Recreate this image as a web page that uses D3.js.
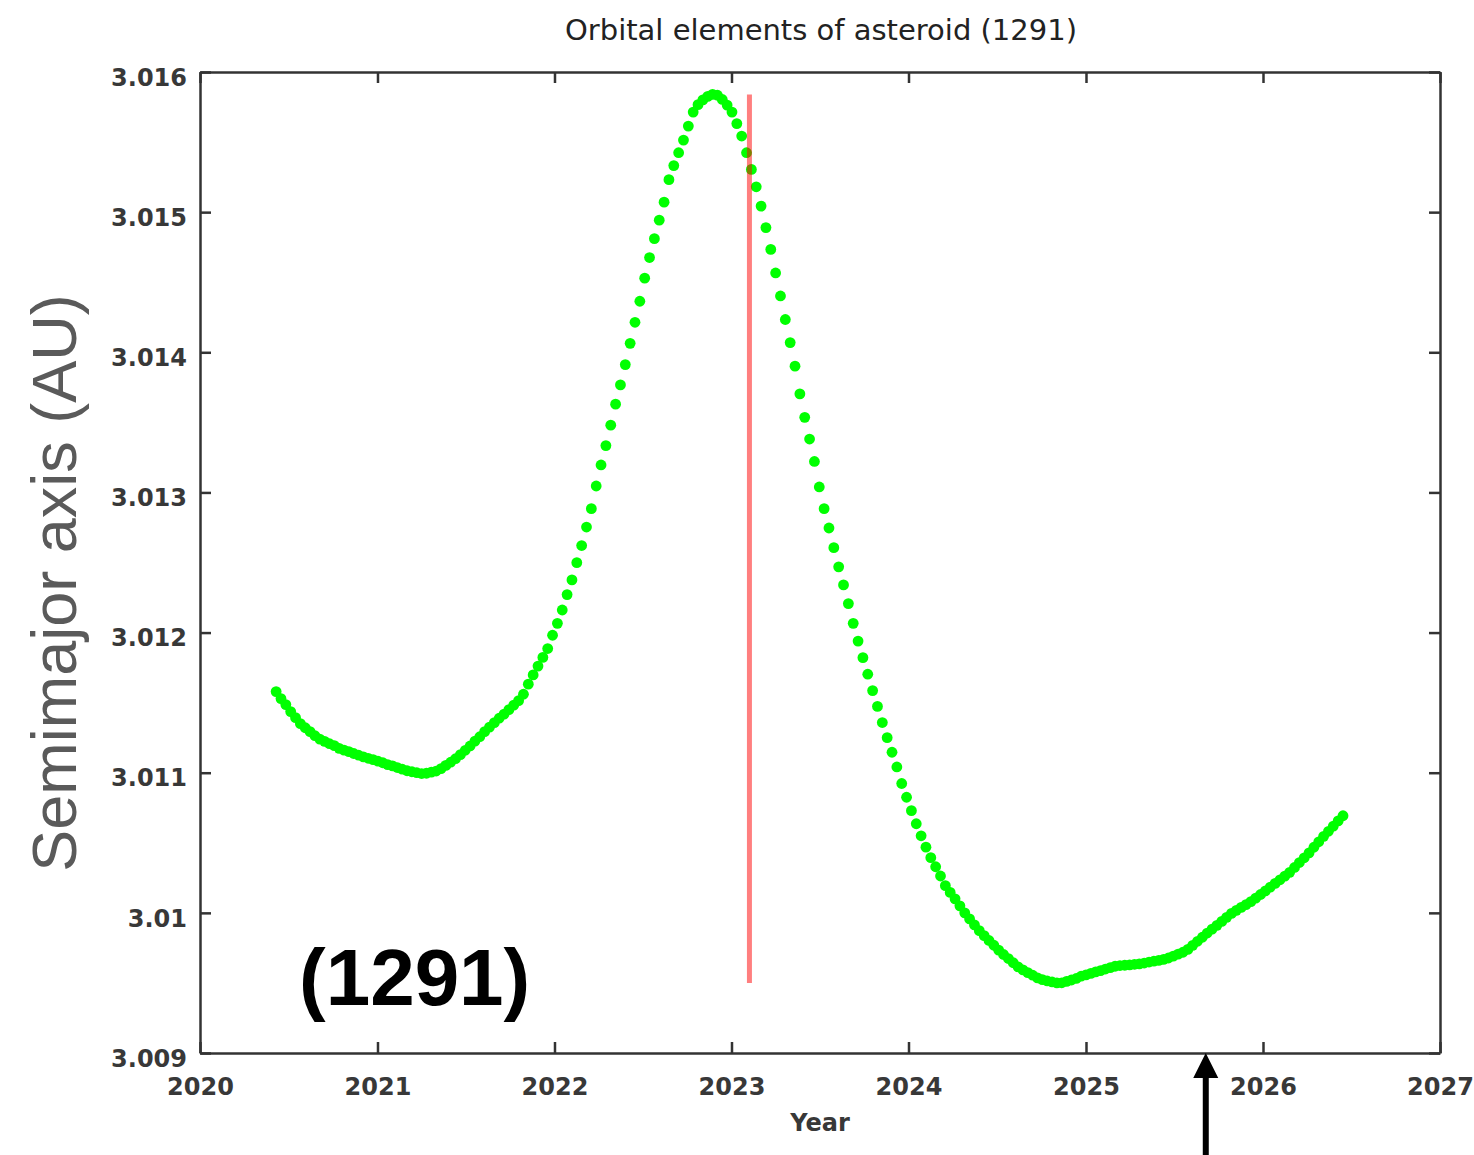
<!DOCTYPE html>
<html>
<head>
<meta charset="utf-8">
<script src="https://cdn.jsdelivr.net/npm/d3@7"></script>
<style>
  body { margin: 0; background: #fff; }
  svg { display: block; }
</style>
</head>
<body>
<div id="chart"></div>
<script>
// first point and spacing of the samples (one dot every 10 days)
var startDate = new Date(2020, 5, 6);
var stepDays = 10;

// semimajor axis in AU
var semimajor = [
  3.011579, 3.011529, 3.011486, 3.011436, 3.011393, 3.011350, 3.011321, 3.011293, 3.011264, 3.011240,
  3.011224, 3.011207, 3.011193, 3.011174, 3.011161, 3.011150, 3.011137, 3.011125, 3.011113, 3.011103,
  3.011093, 3.011082, 3.011071, 3.011058, 3.011049, 3.011037, 3.011025, 3.011014, 3.011007, 3.011000,
  3.010994, 3.010996, 3.011004, 3.011012, 3.011029, 3.011052, 3.011075, 3.011100, 3.011129, 3.011160,
  3.011191, 3.011225, 3.011257, 3.011293, 3.011325, 3.011357, 3.011389, 3.011418, 3.011450, 3.011482,
  3.011514, 3.011560, 3.011632, 3.011698, 3.011761, 3.011823, 3.011886, 3.011981, 3.012066, 3.012161,
  3.012271, 3.012376, 3.012499, 3.012621, 3.012753, 3.012884, 3.013046, 3.013196, 3.013334, 3.013480,
  3.013630, 3.013767, 3.013912, 3.014064, 3.014214, 3.014364, 3.014529, 3.014676, 3.014811, 3.014943,
  3.015071, 3.015232, 3.015332, 3.015424, 3.015514, 3.015614, 3.015714, 3.015767, 3.015801, 3.015826,
  3.015840, 3.015834, 3.015804, 3.015764, 3.015714, 3.015632, 3.015543, 3.015424, 3.015305, 3.015181,
  3.015043, 3.014890, 3.014734, 3.014566, 3.014402, 3.014234, 3.014069, 3.013901, 3.013703, 3.013536,
  3.013381, 3.013221, 3.013039, 3.012884, 3.012746, 3.012606, 3.012469, 3.012340, 3.012207, 3.012066,
  3.011939, 3.011821, 3.011703, 3.011586, 3.011473, 3.011358, 3.011250, 3.011146, 3.011041, 3.010923,
  3.010825, 3.010729, 3.010636, 3.010550, 3.010469, 3.010394, 3.010329, 3.010263, 3.010194, 3.010146,
  3.010100, 3.010050, 3.010000, 3.009957, 3.009914, 3.009873, 3.009838, 3.009803, 3.009769, 3.009734,
  3.009703, 3.009674, 3.009644, 3.009615, 3.009593, 3.009574, 3.009555, 3.009536, 3.009524, 3.009514,
  3.009507, 3.009500, 3.009501, 3.009511, 3.009521, 3.009532, 3.009548, 3.009557, 3.009568, 3.009579,
  3.009588, 3.009599, 3.009609, 3.009619, 3.009624, 3.009626, 3.009629, 3.009633, 3.009636, 3.009642,
  3.009649, 3.009655, 3.009661, 3.009668, 3.009678, 3.009691, 3.009706, 3.009719, 3.009739, 3.009768,
  3.009797, 3.009826, 3.009856, 3.009884, 3.009911, 3.009939, 3.009968, 3.009996, 3.010018, 3.010039,
  3.010059, 3.010080, 3.010105, 3.010131, 3.010157, 3.010184, 3.010210, 3.010236, 3.010262, 3.010289,
  3.010324, 3.010359, 3.010393, 3.010428, 3.010468, 3.010507, 3.010546, 3.010582, 3.010619, 3.010656,
  3.010693
];

var epochDate = new Date(2023, 1, 7);   // red vertical marker
var arrowDate = new Date(2025, 8, 5);   // black arrow under the axis

var xTickYears = [2020, 2021, 2022, 2023, 2024, 2025, 2026, 2027];
var yTickValues = [3.009, 3.010, 3.011, 3.012, 3.013, 3.014, 3.015, 3.016];
var yTickLabels = ["3.009", "3.01", "3.011", "3.012", "3.013", "3.014", "3.015", "3.016"];

var titleText = "Orbital elements of asteroid (1291)";
var xLabel = "Year";
var yLabel = "Semimajor axis (AU)";
var bigLabel = "(1291)";

var width = 1474, height = 1155;
var plot = {left: 200, right: 1440, top: 72, bottom: 1053};
var tickFont = "'DejaVu Sans', Verdana, sans-serif";

var data = semimajor.map(function(v, i) {
  return {time: d3.timeDay.offset(startDate, i * stepDays), a: v};
});

var x = d3.scaleTime()
  .domain([new Date(xTickYears[0], 0, 1), new Date(xTickYears[xTickYears.length - 1], 0, 1)])
  .range([plot.left, plot.right]);

var y = d3.scaleLinear()
  .domain([yTickValues[0], yTickValues[yTickValues.length - 1]])
  .range([plot.bottom, plot.top]);

var svg = d3.select("#chart")
  .append("svg")
  .attr("width", width)
  .attr("height", height);

// dots
svg.append("g")
  .selectAll("circle")
  .data(data)
  .enter()
  .append("circle")
  .attr("cx", d => x(d.time))
  .attr("cy", d => y(d.a))
  .attr("r", 5.4)
  .attr("fill", "#00ff00");

// red epoch line spanning the data range
var ext = d3.extent(semimajor);
svg.append("line")
  .attr("x1", x(epochDate))
  .attr("x2", x(epochDate))
  .attr("y1", y(ext[1]))
  .attr("y2", y(ext[0]))
  .attr("stroke", "rgba(255,0,0,0.5)")
  .attr("stroke-width", 5);

// axes, ticks pointing inwards on all four sides
var xTicks = xTickYears.map(yr => new Date(yr, 0, 1));

var xAxis = d3.axisBottom(x)
  .tickValues(xTicks)
  .tickFormat(d3.timeFormat("%Y"))
  .tickSizeInner(-11)
  .tickSizeOuter(0)
  .tickPadding(25);

var yAxis = d3.axisLeft(y)
  .tickValues(yTickValues)
  .tickFormat((d, i) => yTickLabels[i])
  .tickSizeInner(-11)
  .tickSizeOuter(0)
  .tickPadding(13);

var gx = svg.append("g")
  .attr("transform", "translate(0," + plot.bottom + ")")
  .call(xAxis);

var gy = svg.append("g")
  .attr("transform", "translate(" + plot.left + ",0)")
  .call(yAxis);

svg.append("g")
  .attr("transform", "translate(0," + plot.top + ")")
  .call(d3.axisTop(x).tickValues(xTicks).tickFormat("").tickSizeInner(-11).tickSizeOuter(0));

svg.append("g")
  .attr("transform", "translate(" + plot.right + ",0)")
  .call(d3.axisRight(y).tickValues(yTickValues).tickFormat("").tickSizeInner(-11).tickSizeOuter(0));

svg.selectAll(".domain")
  .attr("stroke", "#333")
  .attr("stroke-width", 2.5);
svg.selectAll(".tick line")
  .attr("stroke", "#333")
  .attr("stroke-width", 2.5);

gx.selectAll("text")
  .attr("font-family", tickFont)
  .attr("font-weight", "bold")
  .attr("font-size", 24)
  .attr("fill", "#383838");

gy.selectAll("text")
  .attr("font-family", tickFont)
  .attr("font-weight", "bold")
  .attr("font-size", 24)
  .attr("fill", "#383838")
  .attr("dy", "0.55em");

// title and axis labels
svg.append("text")
  .attr("x", 821)
  .attr("y", 40)
  .attr("text-anchor", "middle")
  .attr("font-family", tickFont)
  .attr("font-size", 29)
  .attr("fill", "#222")
  .text(titleText);

svg.append("text")
  .attr("x", 820)
  .attr("y", 1131)
  .attr("text-anchor", "middle")
  .attr("font-family", tickFont)
  .attr("font-weight", "bold")
  .attr("font-size", 24)
  .attr("fill", "#383838")
  .text(xLabel);

svg.append("text")
  .attr("transform", "translate(76,583) rotate(-90)")
  .attr("text-anchor", "middle")
  .attr("font-family", "'Liberation Sans', Helvetica, Arial, sans-serif")
  .attr("font-size", 63)
  .attr("fill", "#5a5a5a")
  .text(yLabel);

svg.append("text")
  .attr("x", 299)
  .attr("y", 1005)
  .attr("font-family", "'Liberation Sans', Helvetica, Arial, sans-serif")
  .attr("font-weight", "bold")
  .attr("font-size", 80)
  .attr("fill", "#000")
  .text(bigLabel);

// arrow pointing up at the x axis
var ax = x(arrowDate);
var tipY = y(yTickValues[0]);
svg.append("line")
  .attr("x1", ax)
  .attr("x2", ax)
  .attr("y1", height)
  .attr("y2", tipY + 20)
  .attr("stroke", "#000")
  .attr("stroke-width", 6);

svg.append("path")
  .attr("d", d3.line()([[ax, tipY], [ax - 12.5, tipY + 25], [ax + 12.5, tipY + 25]]) + "Z")
  .attr("fill", "#000");
</script>
</body>
</html>
